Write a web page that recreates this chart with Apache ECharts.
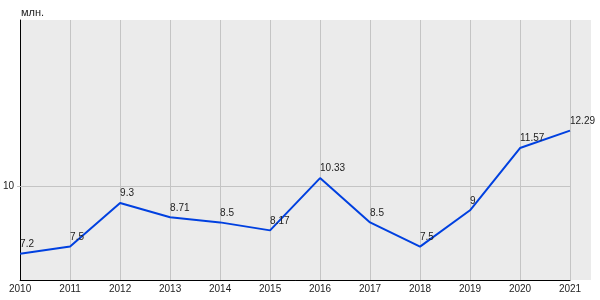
<!DOCTYPE html>
<html><head><meta charset="utf-8">
<script src="https://cdn.jsdelivr.net/npm/echarts@6/dist/echarts.min.js"></script>
<style>html,body{margin:0;padding:0;background:#fff}#c{width:600px;height:300px}</style>
</head><body><div id="c"></div>
<script>
const years = ['2010','2011','2012','2013','2014','2015','2016','2017','2018','2019','2020','2021'];
const values = [7.2, 7.5, 9.3, 8.71, 8.5, 8.17, 10.33, 8.5, 7.5, 9, 11.57, 12.29];
const yTicks = [10];
const unitLabel = 'млн.';

const chart = echarts.init(document.getElementById('c'), null, {renderer:'canvas'});
const font = 'Liberation Sans, Arial, sans-serif';
chart.setOption({
  animation: false,
  graphic: [{type:'rect', z:-10, shape:{x:20,y:20,width:571,height:260}, style:{fill:'#ebebeb'}}],
  title: {text: unitLabel, left: 21, top: 7, padding:0, textStyle:{fontSize:11, fontWeight:'normal', color:'#222', fontFamily:font}},
  grid: {left:20, right:30, top:20, bottom:20, containLabel:false},
  xAxis: {
    type:'category', data: years, boundaryGap:false,
    axisLine:{lineStyle:{color:'#000', width:1}},
    axisTick:{show:false},
    axisLabel:{color:'#222', fontSize:10, fontFamily:font, margin:4},
    splitLine:{show:true, lineStyle:{color:'#c4c4c4', width:1}}
  },
  yAxis: {
    type:'value', min:6.12, max:16.86,
    axisLine:{show:true, lineStyle:{color:'#000', width:1}},
    axisTick:{show:true, length:3, customValues: yTicks, lineStyle:{color:'#c4c4c4'}},
    axisLabel:{customValues: yTicks, color:'#222', fontSize:10, fontFamily:font, margin:6},
    splitLine:{show:false}
  },
  series: [{
    type:'line', data: values, symbol:'circle', symbolSize:1, showSymbol:true,
    itemStyle:{color:'rgba(0,0,0,0)'},
    lineStyle:{color:'#0040e0', width:2},
    label:{show:true, position:'top', align:'left', distance:4, color:'#222', fontSize:10, fontFamily:font},
    labelLayout:{hideOverlap:false},
    markLine:{silent:true, symbol:'none', label:{show:false}, z:1,
      lineStyle:{color:'#c4c4c4', width:1, type:'solid'},
      data: yTicks.map(v=>({yAxis:v}))}
  }]
});
</script></body></html>
